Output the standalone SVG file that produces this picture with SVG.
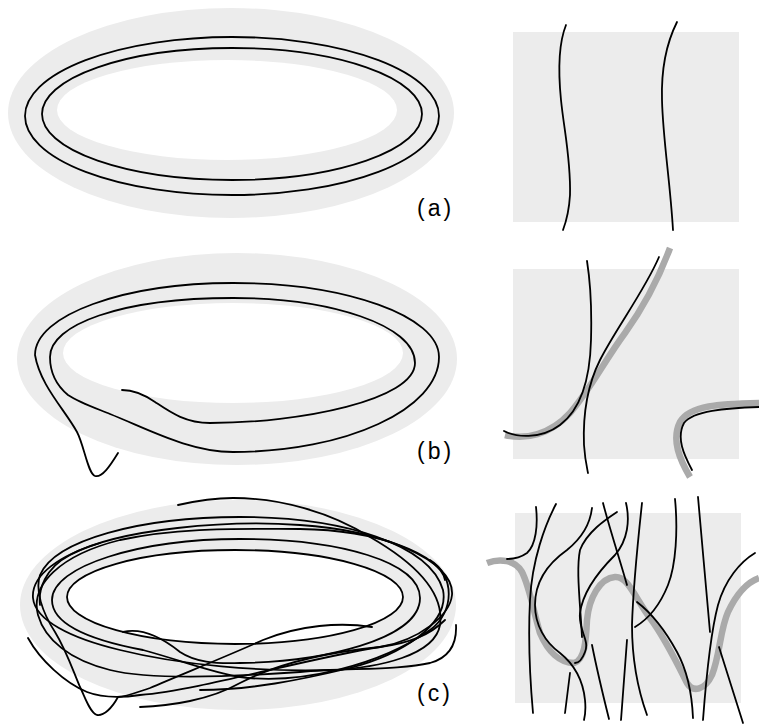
<svg xmlns="http://www.w3.org/2000/svg" width="759" height="725" viewBox="0 0 759 725">
<style>
.band{fill:#ececec}
.hole{fill:#ffffff}
.box{fill:#ececec}
.k{fill:none;stroke:#000;stroke-width:1.8;stroke-linecap:round;stroke-linejoin:round}
.g{fill:none;stroke:#aaaaaa;stroke-width:6.5;stroke-linecap:butt}
.lbl{font-family:"Liberation Sans",Arial,sans-serif;font-size:23px;fill:#000;letter-spacing:3px}
</style>
<rect width="759" height="725" fill="#fff"/>

<g id="panel-a">
  <ellipse class="band" cx="231" cy="113" rx="223" ry="105"/>
  <ellipse class="hole" cx="227" cy="110" rx="170" ry="50"/>
  <ellipse class="k" cx="232" cy="116" rx="207" ry="79"/>
  <ellipse class="k" cx="232" cy="114" rx="190" ry="66"/>
  <text class="lbl" x="417" y="216">(a)</text>
</g>
<g id="panel-a-detail">
  <rect class="box" x="513" y="32" width="226" height="190"/>
  <path class="k" d="M566,25 C558,45 558,70 561,100 C564,130 571,160 570,195 C569,212 566,222 563,230"/>
  <path class="k" d="M677,22 C668,40 661,65 662,100 C663,140 670,180 673,230"/>
</g>

<g id="panel-b">
  <ellipse class="band" cx="237" cy="359" rx="220" ry="106"/>
  <ellipse class="hole" cx="233" cy="353" rx="170" ry="50"/>
  <path class="k" d="M118,453 C110,466 102,478 95,476 C88,474 84,445 77,432 C65,410 40,385 35,355 C35,315 124,283 233,283 C346,283 439,316 439,357 C439,409 346,452 233,452 C190,452 150,430 110,414 C98,409 80,403 68,395 C56,385 50,372 50,357 C50,325 120,298 233,298 C330,298 415,325 415,363 C415,400 300,423 210,423 C185,423 170,412 155,402 C142,393 132,390 122,390"/>
  <text class="lbl" x="417" y="459">(b)</text>
</g>
<g id="panel-b-detail">
  <rect class="box" x="513" y="269" width="226" height="190"/>
  <path class="g" d="M505,435 C525,440 550,435 570,413 C590,390 605,360 625,333 C645,305 660,275 670,248"/>
  <path class="g" d="M690,477 C680,460 671,440 680,422 C690,405 720,404 759,403"/>
  <path class="k" d="M504,431 C515,437 540,440 560,425 C580,410 590,380 591,340 C592,305 590,280 587,261"/>
  <path class="k" d="M659,257 C645,290 615,330 600,360 C585,390 583,420 584,445 C585,460 587,468 588,473"/>
  <path class="k" d="M692,470 C684,455 676,438 684,423 C693,411 725,408 759,407"/>
</g>

<g id="panel-c">
  <ellipse class="band" cx="238" cy="605" rx="218" ry="105"/>
  <ellipse class="hole" cx="235" cy="597" rx="168" ry="47"/>
  <ellipse class="k" cx="235" cy="597" rx="168" ry="47"/>
  <path class="k" d="M123,632 C140,628 160,636 180,652 C195,662 215,664 240,663 C320,662 420,640 420,598 C420,562 340,539 240,539 C140,539 52,566 52,600 C52,625 90,640 143,650 C180,660 210,672 240,677 C300,685 380,665 430,630 C455,612 455,575 430,560"/>
  <path class="k" d="M372,627 C340,622 300,625 263,640 C230,655 180,675 150,688 C135,693 125,697 118,697 C112,708 104,716 97,715 C90,713 85,697 80,687 C72,668 66,650 55,632 C42,612 35,590 40,575 C55,540 140,517 240,517 C345,517 430,545 443,590 C450,625 400,655 350,668 C300,680 250,690 200,690"/>
  <path class="k" d="M28,638 C40,660 65,683 87,692 C100,697 120,698 140,695 C200,690 300,660 380,647 C420,640 450,615 452,595 C455,560 380,530 300,525 C230,520 120,528 70,555 C45,568 38,590 40,605"/>
  <path class="k" d="M178,505 C200,500 215,498 233,498 C280,498 330,512 370,537 C410,560 445,590 440,625 C435,655 380,668 330,670 C260,672 180,665 120,650 C70,638 35,620 33,598 C31,575 60,555 100,543"/>
  <path class="k" d="M456,625 C457,645 448,658 430,663 C400,670 350,668 300,672 C230,677 150,680 110,670 C70,660 45,640 38,615 C30,585 60,555 120,540 C180,527 240,529 300,529 C380,530 440,555 445,580"/>
  <path class="k" d="M140,707 C170,706 210,700 240,683 C280,662 330,652 380,647 C410,643 430,635 445,620"/>
  <text class="lbl" x="417" y="701">(c)</text>
</g>
<g id="panel-c-detail">
  <rect class="box" x="515" y="513" width="226" height="190"/>
  <path class="g" d="M487,563 C500,558 515,560 522,572 C530,588 533,610 540,633 C548,652 560,663 574,663 C585,660 586,640 587,620 C589,598 600,578 615,577 C628,576 635,598 650,618 C665,638 678,665 687,683 C693,693 705,690 712,675 C720,655 720,630 728,612 C736,595 745,583 759,578"/>
  <g id="strands">
    <path class="k" d="M536,507 C538,525 536,545 527,553 C520,558 513,559 507,559"/>
    <path class="k" d="M556,504 C545,525 532,560 530,600 C528,640 530,680 533,713"/>
    <path class="k" d="M592,508 C590,525 582,538 567,550 C550,562 535,580 535,605 C535,625 545,642 560,653 C575,665 583,680 585,700 C586,710 585,716 584,720"/>
    <path class="k" d="M617,512 C605,520 587,532 580,550 C576,570 580,600 582,637"/>
    <path class="k" d="M626,503 C630,520 628,540 615,555 C600,570 583,590 580,613 C578,630 590,640 585,652 C582,660 578,663 575,663"/>
    <path class="k" d="M592,645 C597,670 603,695 609,719"/>
    <path class="k" d="M570,673 L565,713"/>
    <path class="k" d="M603,503 C610,530 620,560 627,585"/>
    <path class="k" d="M642,503 C638,540 633,590 632,625 C632,660 638,690 647,715"/>
    <path class="k" d="M627,640 C625,665 623,695 621,720"/>
    <path class="k" d="M675,499 C678,530 676,565 668,585 C660,605 650,618 635,627"/>
    <path class="k" d="M637,602 C650,612 665,630 677,652 C688,672 692,695 693,718"/>
    <path class="k" d="M698,497 C702,540 706,590 710,632"/>
    <path class="k" d="M755,553 C740,562 725,580 718,605 C710,635 706,680 703,720"/>
    <path class="k" d="M719,647 L743,723"/>
  </g>
</g>
</svg>
